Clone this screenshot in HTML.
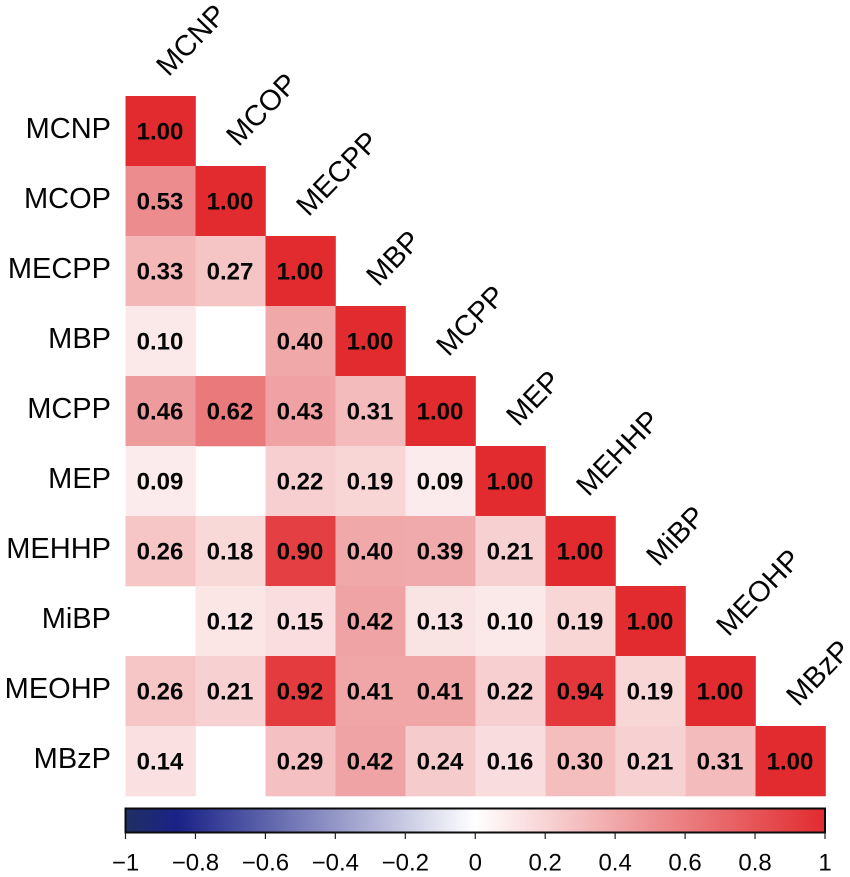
<!DOCTYPE html>
<html>
<head>
<meta charset="utf-8">
<style>
html,body{margin:0;padding:0;background:#fff;width:850px;height:877px;overflow:hidden}
svg{display:block}
text{font-family:"Liberation Sans",sans-serif;fill:#050505}
</style>
</head>
<body>
<svg id="chart" width="850" height="877" viewBox="0 0 850 877" xmlns="http://www.w3.org/2000/svg">
<defs>
<linearGradient id="cbar-gradient" x1="0" x2="1" y1="0" y2="0"></linearGradient>
</defs>
</svg>
<script>
const categories = ["MCNP","MCOP","MECPP","MBP","MCPP","MEP","MEHHP","MiBP","MEOHP","MBzP"];
const row0 = [1.00];
const row1 = [0.53,1.00];
const row2 = [0.33,0.27,1.00];
const row3 = [0.10,null,0.40,1.00];
const row4 = [0.46,0.62,0.43,0.31,1.00];
const row5 = [0.09,null,0.22,0.19,0.09,1.00];
const row6 = [0.26,0.18,0.90,0.40,0.39,0.21,1.00];
const row7 = [null,0.12,0.15,0.42,0.13,0.10,0.19,1.00];
const row8 = [0.26,0.21,0.92,0.41,0.41,0.22,0.94,0.19,1.00];
const row9 = [0.14,null,0.29,0.42,0.24,0.16,0.30,0.21,0.31,1.00];
const correlations = [row0,row1,row2,row3,row4,row5,row6,row7,row8,row9];
const scaleTicks = [-1,-0.8,-0.6,-0.4,-0.2,0,0.2,0.4,0.6,0.8,1];
const scaleDomain = [-1,-0.85,0,0.5,1];
const scaleColors = [[31,47,99],[26,34,135],[255,255,255],[237,146,148],[226,43,47]];

const NS = "http://www.w3.org/2000/svg";
const svg = document.getElementById("chart");
const gridLeft = 125.5, gridTop = 96, cellSize = 70;
const cbTop = 808.5, cbBottom = 832.5, cbLeft = 125.5, cbRight = 825;

function xCell(i){ return gridLeft + i * cellSize; }
function yCell(i){ return gridTop + i * cellSize; }
function xScale(v){ return cbLeft + (v + 1) / 2 * (cbRight - cbLeft); }
function colorFor(v){
  for (let i = 0; i < scaleDomain.length - 1; i++) {
    if (v <= scaleDomain[i + 1]) {
      const t = (v - scaleDomain[i]) / (scaleDomain[i + 1] - scaleDomain[i]);
      const a = scaleColors[i], b = scaleColors[i + 1];
      return "rgb(" + a.map((c, k) => Math.round(c + (b[k] - c) * t)).join(",") + ")";
    }
  }
  return "rgb(" + scaleColors[scaleColors.length - 1].join(",") + ")";
}
function make(tag, attrs, txt){
  const el = document.createElementNS(NS, tag);
  for (const k in attrs) el.setAttribute(k, attrs[k]);
  if (txt !== undefined) el.textContent = txt;
  svg.appendChild(el);
  return el;
}

correlations.forEach((row, r) => {
  row.forEach((v, c) => {
    if (v === null) return;
    const cell = make("rect", {x: xCell(c), y: yCell(r), width: cellSize + 0.3, height: cellSize + 0.3, fill: colorFor(v)});
    
    
  });
});
correlations.forEach((row, r) => {
  row.forEach((v, c) => {
    if (v === null) return;
    const label = make("text", {x: xCell(c) + cellSize / 2 - 0.5, y: yCell(r) + cellSize / 2 + 8.5, "text-anchor": "middle", "font-size": "24", "font-weight": "bold"}, v.toFixed(2));
    
    
  });
});
categories.forEach((name, i) => {
  const yLabel = make("text", {x: 111, y: yCell(i) + cellSize / 2 + 7, "text-anchor": "end", "font-size": "29"}, name);
  
  
  const tx = xCell(i) + 43, ty = yCell(i) - 18.5;
  const xLabel = make("text", {x: tx, y: ty, "font-size": "29", transform: "rotate(-46 " + tx + " " + ty + ")"}, name);
  
  
});

const grad = document.getElementById("cbar-gradient");
scaleDomain.forEach((d, i) => {
  const stop = document.createElementNS(NS, "stop");
  stop.setAttribute("offset", ((d + 1) / 2 * 100) + "%");
  stop.setAttribute("stop-color", "rgb(" + scaleColors[i].join(",") + ")");
  grad.appendChild(stop);
});
const bar = make("rect", {x: cbLeft, y: cbTop, width: cbRight - cbLeft, height: cbBottom - cbTop, fill: "url(#cbar-gradient)", stroke: "#0b0b0b", "stroke-width": "2"});



scaleTicks.forEach((v) => {
  const tick = make("line", {x1: xScale(v), x2: xScale(v), y1: cbBottom, y2: 839, stroke: "#222", "stroke-width": "1.2"});
  
  
  const lab = make("text", {x: xScale(v), y: 870.5, "text-anchor": "middle", "font-size": "24"}, String(v).replace("-", "\u2212"));
  
  
});
</script>
</body>
</html>
